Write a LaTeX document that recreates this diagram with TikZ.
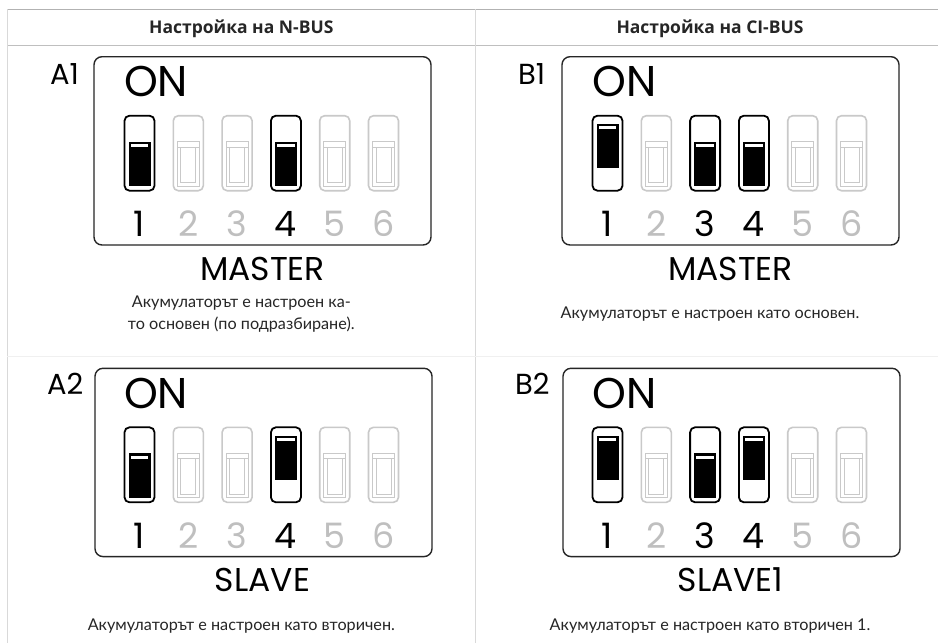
\documentclass[tikz,border=0pt]{standalone}
\usepackage{fontspec}
\setmainfont{Lato}
\newfontfamily\geo{Poppins}
\newfontfamily\hdrfont{Open Sans}
\begin{document}
\begin{tikzpicture}[x=1pt,y=-1pt,
  panelbox/.style={draw=black!85, line width=1.4pt, rounded corners=8pt},
  tline/.style={line width=1pt},
  lbl/.style={inner sep=0pt, anchor=base west, font=\geo\fontsize{29}{29}\selectfont},
  onlbl/.style={inner sep=0pt, anchor=base west, font=\geo\fontsize{43}{43}\selectfont},
  numlbl/.style={inner sep=0pt, anchor=base, font=\geo\fontsize{35}{35}\selectfont},
  modelbl/.style={inner sep=0pt, anchor=base, font=\geo\fontsize{33}{33}\selectfont},
  hdr/.style={inner sep=0pt, anchor=base, font=\hdrfont\bfseries\fontsize{17.5}{17.5}\selectfont, text=black!85},
  body/.style={inner sep=0pt, anchor=base, font=\fontsize{16.2}{16.2}\selectfont, text=black!85},
  swact/.pic={
    \draw[line width=1.8pt, rounded corners=5pt] (-15,0) rectangle (15,75);
    \fill[black] (-11,#1) rectangle (11,#1+44.3);
    \filldraw[fill=white, draw=black, line width=0.8pt] (-9.3,#1+1.6) rectangle (9.3,#1+5.8);
  },
  swoff/.pic={
    \draw[gray!42, line width=1.6pt, rounded corners=5pt] (-15,0) rectangle (15,75);
    \draw[gray!42, line width=1pt] (-11,26) rectangle (11,70.3);
    \draw[gray!42, line width=1pt] (-11,31.5) -- (11,31.5);
    \draw[gray!42, line width=1pt] (-7.5,31.5) -- (-7.5,67) -- (7.5,67) -- (7.5,31.5);
  }
]
\useasboundingbox (0,0) rectangle (938,643);
\fill[white] (0,0) rectangle (938,643);
% table lines
\draw[tline, gray!60] (7,9) -- (938,9);
\draw[tline, gray!50] (7,45) -- (938,45);
\draw[tline, gray!30] (7,9) -- (7,643);
\draw[tline, gray!30] (475.7,9) -- (475.7,643);
\draw[tline, gray!12, line width=1.4pt] (7,356.7) -- (938,356.7);
% headers
\node[hdr] (h1) at (241.3,33.3) {Настройка на N-BUS};
\node[hdr] (h2) at (710,33.3) {Настройка на CI-BUS};

% ---------- A1 ----------
\begin{scope}
\node[lbl] (lA1) at (50,84) {A1};
\draw[panelbox] (94,56.7) rectangle (431,245);
\node[onlbl] (onA1) at (124,96.7) {ON};
\pic at (139.5,115.7) {swact=26};
\pic at (188.3,115.7) {swoff};
\pic at (237.1,115.7) {swoff};
\pic at (285.9,115.7) {swact=26};
\pic at (334.7,115.7) {swoff};
\pic at (383.5,115.7) {swoff};
\foreach \i/\c in {1/black,2/gray!50,3/gray!50,4/black,5/gray!50,6/gray!50}
  \node[numlbl, text=\c] (nA1\i) at (139.5+48.8*\i-48.8,236.7) {\i};
\node[modelbl] (mA1) at (262.5,280) {MASTER};
\node[body] (tA1a) at (241.3,307.5) {Акумулаторът е настроен ка-};
\node[body] (tA1b) at (241.3,329.5) {то основен (по подразбиране).};
\end{scope}

% ---------- B1 ----------
\begin{scope}[shift={(468,0)}]
\node[lbl] (lB1) at (50,84) {B1};
\draw[panelbox] (94,56.7) rectangle (431,245);
\node[onlbl] (onB1) at (124,96.7) {ON};
\pic at (139.5,115.7) {swact=8.3};
\pic at (188.3,115.7) {swoff};
\pic at (237.1,115.7) {swact=26};
\pic at (285.9,115.7) {swact=26};
\pic at (334.7,115.7) {swoff};
\pic at (383.5,115.7) {swoff};
\foreach \i/\c in {1/black,2/gray!50,3/black,4/black,5/gray!50,6/gray!50}
  \node[numlbl, text=\c] (nB1\i) at (139.5+48.8*\i-48.8,236.7) {\i};
\node[modelbl] (mB1) at (262.5,280) {MASTER};
\node[body] (tB1) at (242,318.5) {Акумулаторът е настроен като основен.};
\end{scope}

% ---------- A2 ----------
\begin{scope}[shift={(0,311.6)}]
\node[lbl] (lA2) at (47,83) {A2};
\draw[panelbox] (95,56.7) rectangle (432,245);
\node[onlbl] (onA2) at (124,96.7) {ON};
\pic at (139.5,115.7) {swact=26};
\pic at (188.3,115.7) {swoff};
\pic at (237.1,115.7) {swoff};
\pic at (285.9,115.7) {swact=8.3};
\pic at (334.7,115.7) {swoff};
\pic at (383.5,115.7) {swoff};
\foreach \i/\c in {1/black,2/gray!50,3/gray!50,4/black,5/gray!50,6/gray!50}
  \node[numlbl, text=\c] (nA2\i) at (139.5+48.8*\i-48.8,236.7) {\i};
\node[modelbl] (mA2) at (262.5,280) {SLAVE};
\node[body] (tA2) at (241.3,318.5) {Акумулаторът е настроен като вторичен.};
\end{scope}

% ---------- B2 ----------
\begin{scope}[shift={(468,311.6)}]
\node[lbl] (lB2) at (47,83) {B2};
\draw[panelbox] (95,56.7) rectangle (432,245);
\node[onlbl] (onB2) at (124,96.7) {ON};
\pic at (139.5,115.7) {swact=8.3};
\pic at (188.3,115.7) {swoff};
\pic at (237.1,115.7) {swact=26};
\pic at (285.9,115.7) {swact=8.3};
\pic at (334.7,115.7) {swoff};
\pic at (383.5,115.7) {swoff};
\foreach \i/\c in {1/black,2/gray!50,3/black,4/black,5/gray!50,6/gray!50}
  \node[numlbl, text=\c] (nB2\i) at (139.5+48.8*\i-48.8,236.7) {\i};
\node[modelbl] (mB2) at (262.5,280) {SLAVE1};
\node[body] (tB2) at (242,318.5) {Акумулаторът е настроен като вторичен 1.};
\end{scope}
\end{tikzpicture}
\end{document}
